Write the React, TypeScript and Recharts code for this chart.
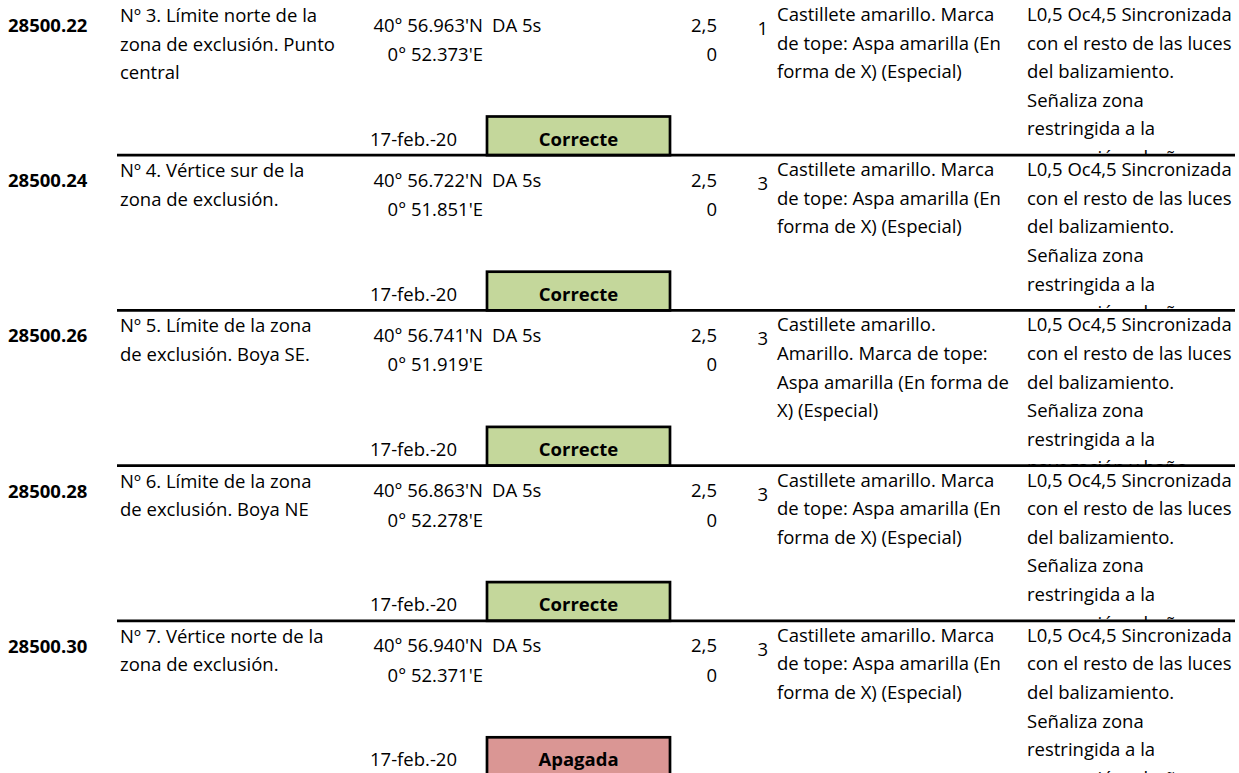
import { ScatterChart, Scatter, XAxis, YAxis } from 'recharts';

// one entry per beacon (row of the sheet)
const ids = ['28500.22', '28500.24', '28500.26', '28500.28', '28500.30'];

const descriptions = [
  ['Nº 3. Límite norte de la', 'zona de exclusión. Punto', 'central'],
  ['Nº 4. Vértice sur de la', 'zona de exclusión.'],
  ['Nº 5. Límite de la zona', 'de exclusión. Boya SE.'],
  ['Nº 6. Límite de la zona', 'de exclusión. Boya NE'],
  ['Nº 7. Vértice norte de la', 'zona de exclusión.'],
];

const latitudes = ["40° 56.963'N", "40° 56.722'N", "40° 56.741'N", "40° 56.863'N", "40° 56.940'N"];
const longitudes = ["0° 52.373'E", "0° 51.851'E", "0° 51.919'E", "0° 52.278'E", "0° 52.371'E"];
const characteristics = ['DA 5s', 'DA 5s', 'DA 5s', 'DA 5s', 'DA 5s'];
const ranges = ['2,5', '2,5', '2,5', '2,5', '2,5'];
const heights = ['0', '0', '0', '0', '0'];
const counts = ['1', '3', '3', '3', '3'];

const structures = [
  ['Castillete amarillo. Marca', 'de tope: Aspa amarilla (En', 'forma de X) (Especial)'],
  ['Castillete amarillo. Marca', 'de tope: Aspa amarilla (En', 'forma de X) (Especial)'],
  ['Castillete amarillo.', 'Amarillo. Marca de tope:', 'Aspa amarilla (En forma de', 'X) (Especial)'],
  ['Castillete amarillo. Marca', 'de tope: Aspa amarilla (En', 'forma de X) (Especial)'],
  ['Castillete amarillo. Marca', 'de tope: Aspa amarilla (En', 'forma de X) (Especial)'],
];

const lightNote = [
  'L0,5 Oc4,5 Sincronizada',
  'con el resto de las luces',
  'del balizamiento.',
  'Señaliza zona',
  'restringida a la',
  'navegación y baño.',
];
const lightNotes = [lightNote, lightNote, lightNote, lightNote, lightNote];

const dates = ['17-feb.-20', '17-feb.-20', '17-feb.-20', '17-feb.-20', '17-feb.-20'];
const statuses = ['Correcte', 'Correcte', 'Correcte', 'Correcte', 'Apagada'];

const statusColors: Record<string, string> = {
  Correcte: '#C4D79B',
  Apagada: '#DA9694',
};

const rows = ids.map((id, i) => ({
  id,
  description: descriptions[i],
  latitude: latitudes[i],
  longitude: longitudes[i],
  characteristic: characteristics[i],
  range: ranges[i],
  height: heights[i],
  count: counts[i],
  structure: structures[i],
  light: lightNotes[i],
  date: dates[i],
  status: statuses[i],
}));

const FONT = "'Open Sans', sans-serif";
const FS = 18.5;
const ROW_H = 155.2;
const LINE_H = 28.6;

function Lines({ x, y, lines }: { x: number; y: number; lines: string[] }) {
  return (
    <>
      {lines.map((t, k) => (
        <text key={k} x={x} y={y + k * LINE_H} fontFamily={FONT} fontSize={FS} fill="#000">
          {t}
        </text>
      ))}
    </>
  );
}

function RowShape(props: any) {
  const { cy, payload } = props;
  const top = cy - ROW_H / 2;
  const clipId = 'row-' + payload.id.replace('.', '-');
  const txt = { fontFamily: FONT, fontSize: FS, fill: '#000' };

  return (
    <g>
      <defs>
        <clipPath id={clipId}>
          <rect x={0} y={top} width={1239} height={ROW_H} />
        </clipPath>
      </defs>
      <g clipPath={`url(#${clipId})`}>
        <text x={8} y={top + 32} {...txt} fontWeight={700}>
          {payload.id}
        </text>
        <Lines x={120} y={top + 22} lines={payload.description} />
        <text x={483} y={top + 31.5} {...txt} textAnchor="end">
          {payload.latitude}
        </text>
        <text x={483} y={top + 61} {...txt} textAnchor="end">
          {payload.longitude}
        </text>
        <text x={492} y={top + 31.5} {...txt}>
          {payload.characteristic}
        </text>
        <text x={717} y={top + 31.5} {...txt} textAnchor="end">
          {payload.range}
        </text>
        <text x={717} y={top + 61} {...txt} textAnchor="end">
          {payload.height}
        </text>
        <text x={768} y={top + 35} {...txt} textAnchor="end">
          {payload.count}
        </text>
        <Lines x={777} y={top + 21} lines={payload.structure} />
        <Lines x={1027} y={top + 21} lines={payload.light} />
        <text x={370} y={top + 145.5} {...txt}>
          {payload.date}
        </text>
      </g>
      <rect
        x={487}
        y={top + 116.5}
        width={183}
        height={ROW_H - 116.5}
        fill={statusColors[payload.status]}
        stroke="#000"
        strokeWidth={2.7}
      />
      <text x={578.5} y={top + 145.5} {...txt} fontWeight={700} textAnchor="middle">
        {payload.status}
      </text>
      <line x1={117} x2={1235} y1={top + ROW_H} y2={top + ROW_H} stroke="#000" strokeWidth={2.7} />
    </g>
  );
}

export default function App() {
  return (
    <div
      style={{
        position: 'absolute',
        left: 0,
        top: 0,
        width: 1239,
        height: 773,
        overflow: 'hidden',
        background: '#fff',
      }}
    >
      <ScatterChart width={1239} height={776} data={rows} margin={{ top: 0, right: 0, bottom: 0, left: 0 }}>
        <XAxis type="category" dataKey="date" hide allowDuplicatedCategory={false} />
        <YAxis type="category" dataKey="id" hide reversed />
        <Scatter dataKey="id" shape={RowShape} isAnimationActive={false} />
      </ScatterChart>
    </div>
  );
}
